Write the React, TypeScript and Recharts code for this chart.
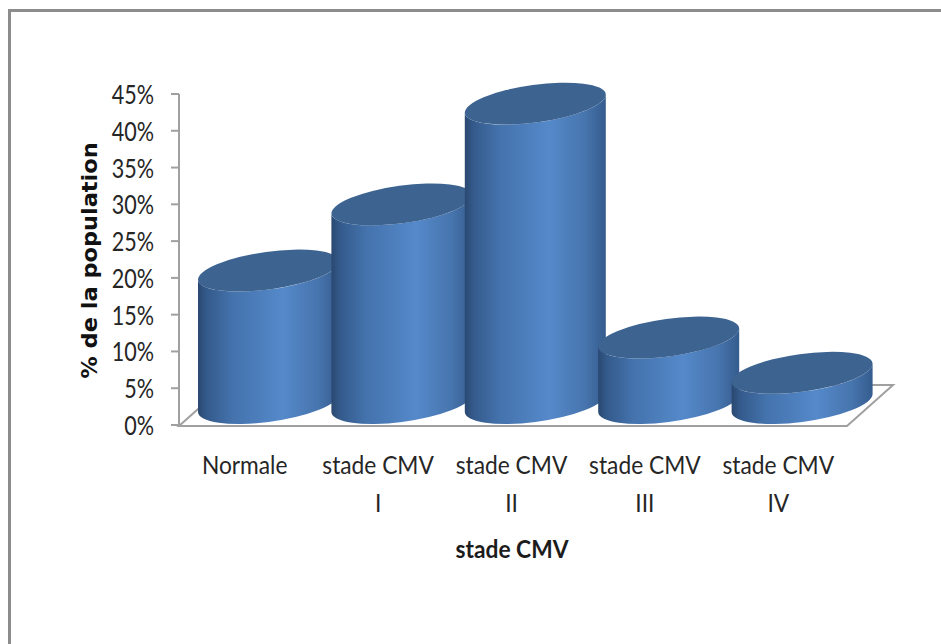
import React from "react";
import { BarChart, Bar, XAxis, YAxis, usePlotArea } from "recharts";

const categories = ["Normale", "stade CMV I", "stade CMV II", "stade CMV III", "stade CMV IV"];
const values = [18, 27, 40.7, 8.9, 4.1];
const yTicks = [0, 5, 10, 15, 20, 25, 30, 35, 40, 45];
const data = categories.map((name, i) => ({ name, value: values[i] }));

const AXIS = "#a0a0a0";
const TEXT = "#262626";
const FONT = "Lato, 'Open Sans', sans-serif";

function Cylinder(props: any) {
  const { x, y, width, height, index } = props;
  const cx = x + width / 2 + 23;
  const base = y + height - 22;
  const top = y - 22;
  const hw = 70.5;
  const dy = 9;
  const rx = 71.1;
  const ry = 18.8;
  const rot = -7.8;
  const id = `cyl-${index}`;
  return (
    <g>
      <defs>
        <linearGradient id={id} x1="0" x2="1" y1="0" y2="0">
          <stop offset="0" stopColor="#2a4870" />
          <stop offset="0.06" stopColor="#345a8b" />
          <stop offset="0.25" stopColor="#4473ad" />
          <stop offset="0.6" stopColor="#5589ca" />
          <stop offset="0.85" stopColor="#4775ae" />
          <stop offset="1" stopColor="#355c8e" />
        </linearGradient>
      </defs>
      <path
        d={`M${cx - hw},${top + dy} L${cx - hw},${base + dy} A${rx},${ry} ${rot} 0 0 ${cx + hw},${base - dy} L${cx + hw},${top - dy} A${rx},${ry} ${rot} 0 1 ${cx - hw},${top + dy} Z`}
        fill={`url(#${id})`}
      />
      <ellipse cx={cx} cy={top} rx={rx} ry={ry} transform={`rotate(${rot} ${cx} ${top})`} fill="#3d6491" />
    </g>
  );
}

function YTick(props: any) {
  const { y, payload } = props;
  return (
    <text transform={`translate(154 ${y + 10}) scale(0.83 1)`} textAnchor="end" fontFamily={FONT} fontSize={26} fill={TEXT}>
      {payload.value}%
    </text>
  );
}

function XTick(props: any) {
  const { x, y, payload } = props;
  const raw: string = payload.value;
  const m = raw.match(/^(stade CMV) (.+)$/);
  const lines = m ? [m[1], m[2]] : [raw];
  return (
    <g>
      {lines.map((l, i) => (
        <text
          key={i}
          transform={`translate(${x - 1} ${y + 41 + i * 38}) scale(0.91 1)`}
          textAnchor="middle"
          fontFamily={FONT}
          fontSize={25}
          fill={TEXT}
        >
          {l}
        </text>
      ))}
    </g>
  );
}

function Floor() {
  const area = usePlotArea();
  if (!area) return null;
  const l = area.x;
  const b = area.y + area.height + 1;
  const r = area.x + area.width;
  return (
    <polygon
      points={`${l},${b} ${r + 1},${b} ${r + 47},${b - 41} ${l + 46},${b - 41}`}
      fill="none"
      stroke={AXIS}
      strokeWidth={2}
    />
  );
}

export default function App() {
  return (
    <div style={{ position: "absolute", left: 0, top: 0, width: 941, height: 644, background: "#fff", overflow: "hidden" }}>
      <div style={{ position: "absolute", left: 8, top: 9, width: 933, height: 3, background: "#8c8c8c" }} />
      <div style={{ position: "absolute", left: 8, top: 9, width: 3, height: 635, background: "#8c8c8c" }} />
      <div style={{ position: "absolute", left: 0, top: 0 }}>
        <BarChart
          width={941}
          height={644}
          data={data}
          margin={{ top: 94, bottom: 119, left: 0, right: 95 }}
          barCategoryGap={0}
        >
          <Floor />
          <XAxis
            dataKey="name"
            interval={0}
            tick={<XTick />}
            tickLine={false}
            axisLine={false}
            height={100}
            label={{
              value: "stade CMV",
              position: "insideBottom",
              content: () => (
                <text transform="translate(512 558) scale(0.93 1)" textAnchor="middle" fontFamily={FONT} fontSize={24.5} fontWeight={700} fill="#1c1c1c">
                  stade CMV
                </text>
              ),
            }}
          />
          <YAxis
            type="number"
            domain={[0, 45]}
            ticks={yTicks}
            width={179}
            interval={0}
            tick={<YTick />}
            tickSize={8}
            tickLine={{ stroke: AXIS, strokeWidth: 2 }}
            axisLine={{ stroke: AXIS, strokeWidth: 2 }}
            label={{
              value: "% de la population",
              content: () => (
                <text transform="translate(97 260.5) rotate(-90) scale(1.096 1)" textAnchor="middle" fontFamily="'DejaVu Sans', sans-serif" fontSize={20.5} fontWeight={700} fill="#111">
                  % de la population
                </text>
              ),
            }}
          />
          <Bar dataKey="value" isAnimationActive={false} shape={<Cylinder />} />
        </BarChart>
      </div>
    </div>
  );
}
